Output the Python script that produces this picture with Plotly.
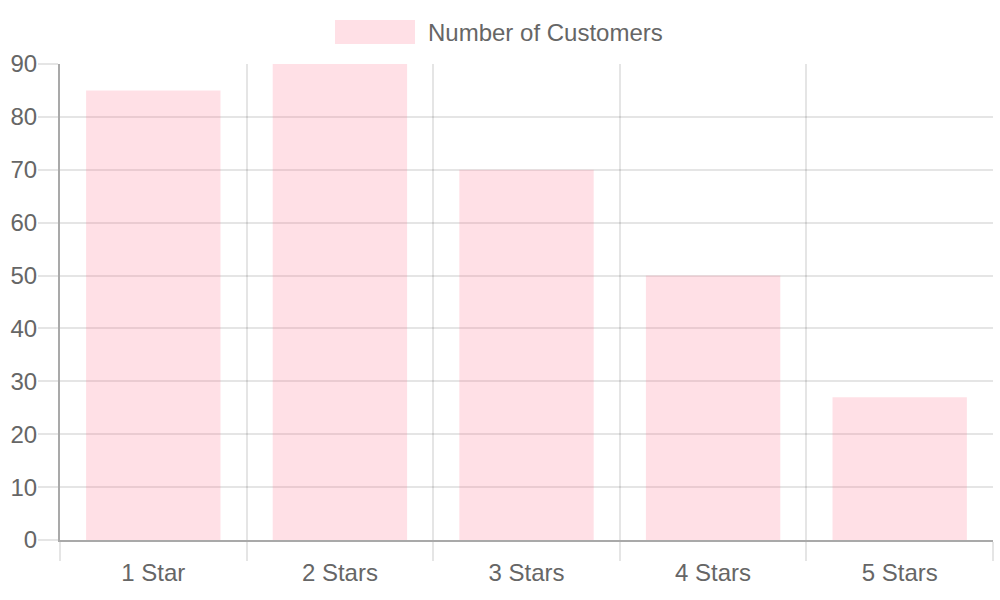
import plotly.graph_objects as go

categories = ["1 Star", "2 Stars", "3 Stars", "4 Stars", "5 Stars"]
customers = [85, 90, 70, 50, 27]
series_name = "Number of Customers"
y_ticks = [0, 10, 20, 30, 40, 50, 60, 70, 80, 90]

FONT = "Liberation Sans, Arial, sans-serif"
TXT = "#666666"
GRID = "rgba(0,0,0,0.1)"
AXIS = "#a9a9a9"
BAR_FILL = "rgba(255,99,132,0.2)"
FS = 24

fig = go.Figure()
fig.add_trace(go.Bar(
    x=categories, y=customers, name=series_name,
    marker=dict(color=BAR_FILL, line=dict(width=0)),
    width=0.72, showlegend=False,
))

W, H = 1000, 600
L, R, T, B = 60, 7, 64, 60
pw, ph = W - L - R, H - T - B

def px_x(px):
    return (px - L) / pw

def px_y(py):
    return (H - B - py) / ph

fig.add_shape(type="rect", xref="paper", yref="paper",
              x0=px_x(335), x1=px_x(415), y0=px_y(44), y1=px_y(20),
              fillcolor=BAR_FILL, line=dict(width=0))
fig.add_annotation(xref="paper", yref="paper", x=px_x(426), y=px_y(32),
                   xanchor="left", yanchor="middle", showarrow=False,
                   text=series_name, font=dict(family=FONT, size=FS, color=TXT))

fig.update_layout(
    width=W, height=H,
    margin=dict(l=L, r=R, t=T, b=B, pad=0),
    paper_bgcolor="white", plot_bgcolor="white",
    font=dict(family=FONT, size=FS, color=TXT),
    xaxis=dict(
        type="category", range=[-0.5, 4.5], tickson="boundaries",
        showgrid=True, gridcolor=GRID, gridwidth=2,
        ticks="outside", ticklen=19, tickcolor=GRID, tickwidth=2,
        showline=True, linecolor=AXIS, linewidth=2,
        tickfont=dict(family=FONT, size=FS, color=TXT),
        ticklabelstandoff=10,
        zeroline=False,
    ),
    yaxis=dict(
        range=[0, 90], tickvals=y_ticks,
        showgrid=True, gridcolor=GRID, gridwidth=2,
        ticks="outside", ticklen=20, tickcolor=GRID, tickwidth=2,
        showline=True, linecolor=AXIS, linewidth=2,
        zeroline=False,
        ticklabelstandoff=-4,
        tickfont=dict(family=FONT, size=FS, color=TXT),
    ),
)

fig.write_html("out.html", config={"displayModeBar": False},
               post_script="document.body.style.margin='0';")
